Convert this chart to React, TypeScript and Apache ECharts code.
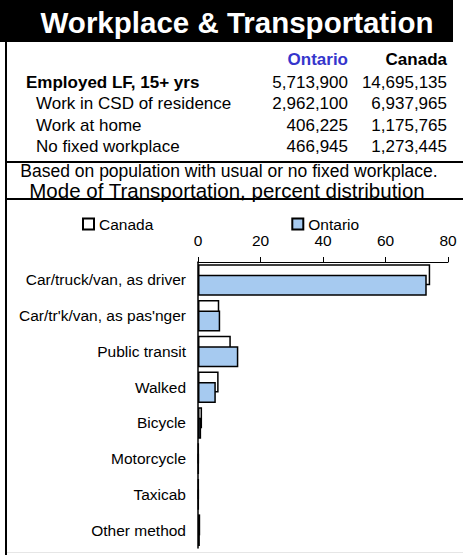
import React, { useEffect, useRef } from "react";
import * as echarts from "echarts";

const TITLE = "Workplace & Transportation";
const TABLE_HEADERS = ["Ontario", "Canada"];
const TABLE_ROWS = ["Employed LF, 15+ yrs", "Work in CSD of residence", "Work at home", "No fixed workplace"];
const ONTARIO_COUNTS = [5713900, 2962100, 406225, 466945];
const CANADA_COUNTS = [14695135, 6937965, 1175765, 1273445];
const NOTE = "Based on population with usual or no fixed workplace.";
const CHART_TITLE = "Mode of Transportation, percent distribution";
const MODES = [
  "Car/truck/van, as driver",
  "Car/tr'k/van, as pas'nger",
  "Public transit",
  "Walked",
  "Bicycle",
  "Motorcycle",
  "Taxicab",
  "Other method",
];
const CANADA_PCT = [74.3, 6.8, 10.5, 6.6, 1.3, 0.2, 0.2, 0.7];
const ONTARIO_PCT = [73.2, 7.1, 12.9, 5.7, 1.0, 0.2, 0.2, 0.6];
const X_MIN = 0;
const X_MAX = 80;
const X_STEP = 20;

const FONT = '"Liberation Sans", Arial, sans-serif';
const ONTARIO_BLUE = "#a6caf0";

function fmt(n: number) {
  return n.toLocaleString("en-US");
}

function txt(text: string, x: number, y: number, size: number, opts: any = {}) {
  const align = opts.align || "left";
  return {
    type: "text",
    x,
    y,
    silent: true,
    style: {
      text,
      fill: opts.fill || "#000",
      font: `${opts.bold ? "bold " : ""}${size}px ${FONT}`,
      align,
      verticalAlign: "middle",
      textAlign: align,
      textVerticalAlign: "middle",
    },
  };
}

export default function App() {
  const ref = useRef<HTMLDivElement>(null);

  useEffect(() => {
    document.body.style.margin = "0";
    if (!ref.current) return;
    const chart = echarts.init(ref.current, null, { renderer: "svg" });

    const graphics: any[] = [];
    graphics.push({ type: "rect", shape: { x: 0, y: 0, width: 453, height: 42 }, style: { fill: "#000" }, silent: true });
    graphics.push(txt(TITLE, 237, 22, 29.5, { bold: true, fill: "#fff", align: "center" }));
    graphics.push({ type: "line", shape: { x1: 6, y1: 42, x2: 6, y2: 555 }, style: { stroke: "#000", lineWidth: 2 }, silent: true });
    graphics.push({ type: "line", shape: { x1: 5, y1: 162, x2: 463, y2: 162 }, style: { stroke: "#000", lineWidth: 2 }, silent: true });
    graphics.push({ type: "line", shape: { x1: 5, y1: 199, x2: 463, y2: 199 }, style: { stroke: "#000", lineWidth: 2 }, silent: true });
    graphics.push({ type: "line", shape: { x1: 7, y1: 552.5, x2: 463, y2: 552.5 }, style: { stroke: "#e6e6e6", lineWidth: 1 }, silent: true });

    graphics.push(txt(TABLE_HEADERS[0], 348, 59, 17, { bold: true, fill: "#3535cc", align: "right" }));
    graphics.push(txt(TABLE_HEADERS[1], 447, 59, 17, { bold: true, align: "right" }));
    TABLE_ROWS.forEach((label, i) => {
      const y = 82 + i * 21.6;
      graphics.push(txt(label, i === 0 ? 26 : 36, y, 17, { bold: i === 0 }));
      graphics.push(txt(fmt(ONTARIO_COUNTS[i]), 348, y, 17, { align: "right" }));
      graphics.push(txt(fmt(CANADA_COUNTS[i]), 447, y, 17, { align: "right" }));
    });
    graphics.push(txt(NOTE, 229, 170.5, 17.5, { align: "center" }));
    graphics.push(txt(CHART_TITLE, 227, 190, 20.5, { align: "center" }));

    chart.setOption({
      animation: false,
      backgroundColor: "#fff",
      textStyle: { fontFamily: FONT },
      graphic: graphics,
      legend: {
        left: 82,
        top: 216,
        padding: 0,
        itemWidth: 11,
        itemHeight: 11,
        itemGap: 138,
        icon: "rect",
        textStyle: { fontSize: 15.5, color: "#000", fontFamily: FONT },
        data: ["Canada", "Ontario"],
      },
      grid: { left: 198, right: 15, top: 262, height: 286, containLabel: false },
      xAxis: {
        type: "value",
        position: "top",
        min: X_MIN,
        max: X_MAX,
        interval: X_STEP,
        axisLine: { show: true, lineStyle: { color: "#000", width: 1 } },
        axisTick: { show: true, length: 5, lineStyle: { color: "#000" } },
        axisLabel: { fontSize: 15.5, color: "#000", margin: 14, fontFamily: FONT },
        splitLine: { show: false },
      },
      yAxis: {
        type: "category",
        data: MODES,
        inverse: true,
        axisLine: { show: true, lineStyle: { color: "#000", width: 1.5 } },
        axisTick: { show: false },
        axisLabel: { fontSize: 15.5, color: "#000", margin: 12, fontFamily: FONT },
      },
      series: [
        {
          name: "Canada",
          type: "bar",
          data: CANADA_PCT,
          barWidth: 21,
          barGap: "-50%",
          itemStyle: { color: "#fff", borderColor: "#000", borderWidth: 1.5 },
        },
        {
          name: "Ontario",
          type: "bar",
          data: ONTARIO_PCT,
          barWidth: 21,
          barGap: "-50%",
          itemStyle: { color: ONTARIO_BLUE, borderColor: "#000", borderWidth: 1.5 },
        },
      ],
    });

    return () => chart.dispose();
  }, []);

  return (
    <div
      ref={ref}
      style={{ position: "absolute", left: 0, top: 0, width: 463, height: 555, background: "#fff" }}
    />
  );
}
